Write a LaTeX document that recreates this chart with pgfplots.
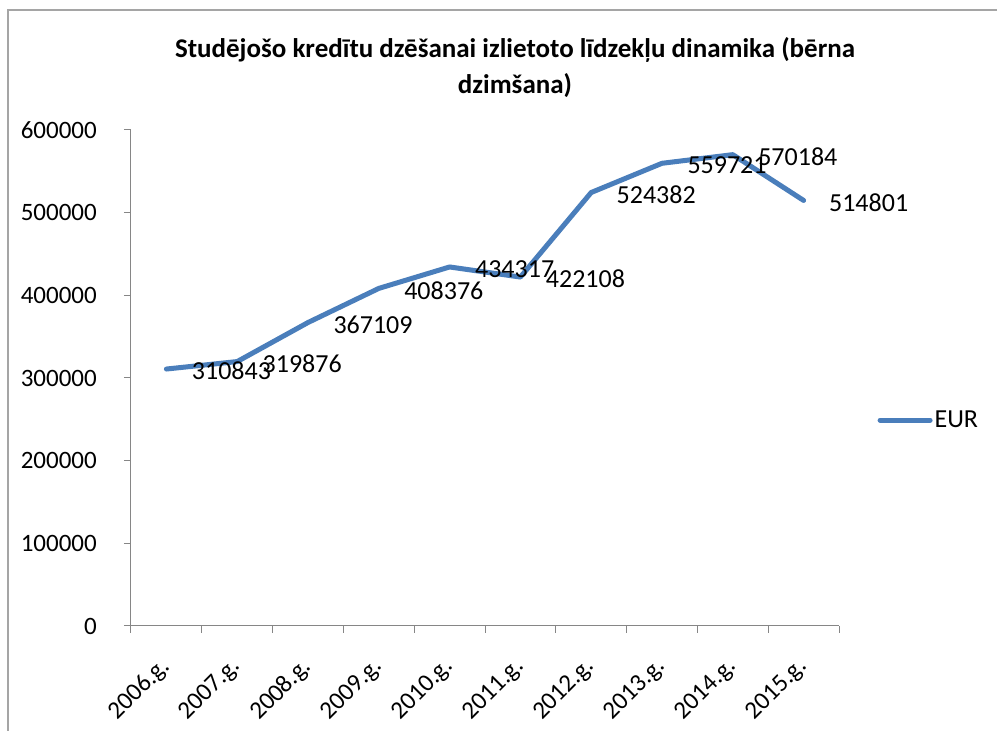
\documentclass[border=0pt]{standalone}
\usepackage{fontspec}
\setmainfont{Carlito}
\usepackage{pgfplots}
\pgfplotsset{compat=1.18}
\definecolor{eur}{RGB}{74,126,187}
\definecolor{axgray}{RGB}{134,134,134}
\definecolor{frame}{RGB}{165,165,165}
\begin{document}
\begin{tikzpicture}[x=1pt,y=1pt]
\path[use as bounding box] (0,0) rectangle (997,731);
\draw[frame, line width=1.3pt] (8,0) -- (8,721) -- (997,721);
\node[font=\fontsize{27}{36}\selectfont\bfseries, align=center] at (515,663) {Studējošo kredītu dzēšanai izlietoto līdzekļu dinamika (bērna\\dzimšana)};
\begin{axis}[
  at={(131pt,105pt)}, anchor=south west,
  scale only axis, width=708pt, height=496pt,
  xmin=0, xmax=10, ymin=0, ymax=600000,
  axis x line*=bottom, axis y line*=left,
  axis line style={axgray, line width=1pt, -},
  xtick={0.5,1.5,2.5,3.5,4.5,5.5,6.5,7.5,8.5,9.5},
  xticklabels={2006.g.,2007.g.,2008.g.,2009.g.,2010.g.,2011.g.,2012.g.,2013.g.,2014.g.,2015.g.},
  major x tick style={draw=none},
  minor xtick={0,1,2,3,4,5,6,7,8,9,10},
  ytick={0,100000,200000,300000,400000,500000,600000},
  tick style={axgray, line width=1pt},
  tick align=outside,
  major tick length=7pt, minor tick length=7pt,
  scaled y ticks=false,
  /pgf/number format/assume math mode=true,
  yticklabel style={/pgf/number format/fixed, /pgf/number format/1000 sep={}, font=\fontsize{25}{30}\selectfont, inner sep=0pt, xshift=-27pt},
  xticklabel shift=30pt,
  xticklabel style={rotate=45, anchor=east, font=\fontsize{25}{30}\selectfont, inner sep=0pt},
  legend style={draw=none, at={(1.05,0.415)}, anchor=west, font=\fontsize{26}{30}\selectfont, legend cell align=left},
  legend image code/.code={\draw[#1, line width=5pt, line cap=round] (0pt,0pt) -- (50pt,0pt);},
  clip=false,
]
\addplot[eur, line width=5pt, line cap=round, line join=round, mark=none,
  nodes near coords, point meta=explicit symbolic,
  every node near coord/.append style={anchor=west, inner sep=0pt, xshift=23pt, yshift=-2pt, font=\fontsize{26}{30}\selectfont, text=black}]
  coordinates {
  (0.5,310843) [310843]
  (1.5,319876) [319876]
  (2.5,367109) [367109]
  (3.5,408376) [408376]
  (4.5,434317) [434317]
  (5.5,422108) [422108]
  (6.5,524382) [524382]
  (7.5,559721) [559721]
  (8.5,570184) [570184]
  (9.5,514801) [514801]
  };
\legend{EUR}
\end{axis}
\end{tikzpicture}
\end{document}
